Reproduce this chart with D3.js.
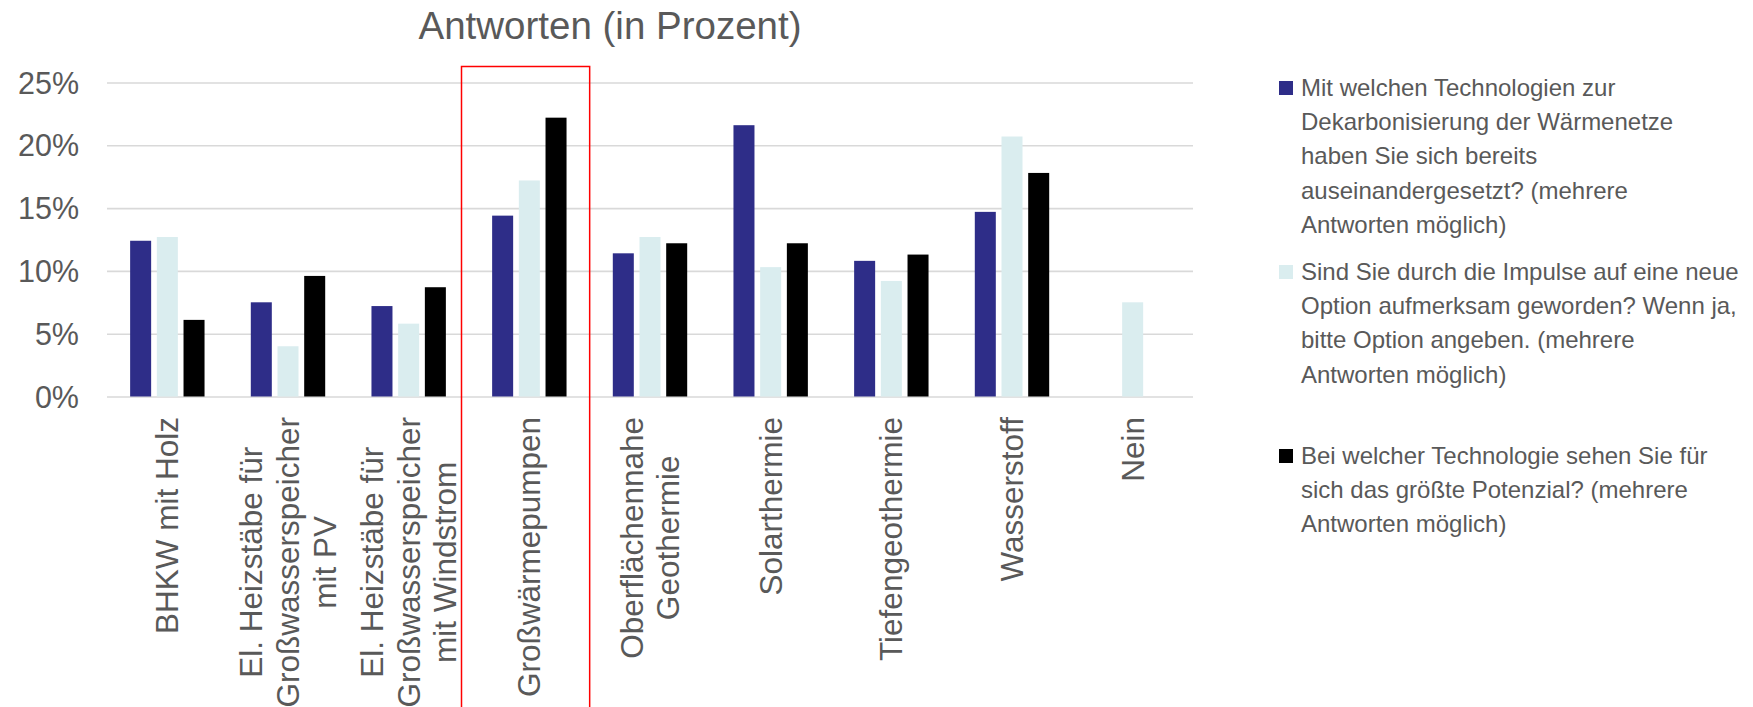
<!DOCTYPE html>
<html>
<head>
<meta charset="utf-8">
<script src="https://cdn.jsdelivr.net/npm/d3@7"></script>
<style>
  html, body { margin: 0; padding: 0; background: #ffffff; }
  svg { display: block; font-family: "Liberation Sans", Arial, sans-serif; }
</style>
</head>
<body>
<svg id="chart" width="1753" height="707"></svg>
<script>
// ---------------- data ----------------
const title = "Antworten (in Prozent)";
const categories = [
  "BHKW mit Holz",
  "El. Heizstäbe für\nGroßwasserspeicher\nmit PV",
  "El. Heizstäbe für\nGroßwasserspeicher\nmit Windstrom",
  "Großwärmepumpen",
  "Oberflächennahe\nGeothermie",
  "Solarthermie",
  "Tiefengeothermie",
  "Wasserstoff",
  "Nein"
];
const seriesNames = [
  "Mit welchen Technologien zur\nDekarbonisierung der Wärmenetze\nhaben Sie sich bereits\nauseinandergesetzt? (mehrere\nAntworten möglich)",
  "Sind Sie durch die Impulse auf eine neue\nOption aufmerksam geworden? Wenn ja,\nbitte Option angeben. (mehrere\nAntworten möglich)",
  "Bei welcher Technologie sehen Sie für\nsich das größte Potenzial? (mehrere\nAntworten möglich)"
];
const seriesBereits  = [12.4, 7.5, 7.2, 14.4, 11.4, 21.6, 10.8, 14.7, 0];
const seriesImpulse  = [12.7, 4.0, 5.8, 17.2, 12.7, 10.3, 9.2, 20.7, 7.5];
const seriesPotenzial = [6.1, 9.6, 8.7, 22.2, 12.2, 12.2, 11.3, 17.8, 0];
const yTicks = [0, 5, 10, 15, 20, 25];
const highlighted = "Großwärmepumpen";

// ---------------- styles ----------------
const colors = ["#2E2D88", "#DAEDEF", "#000000"];
const textColor = "#595959";
const gridColor = "#D9D9D9";

const svg = d3.select("#chart");
svg.append("rect").attr("width", 1753).attr("height", 707).attr("fill", "#fff");

const plot = { left: 107, right: 1193, top: 82.5, bottom: 396.5 };

const x = d3.scaleBand().domain(categories).range([plot.left, plot.right]).paddingInner(0).paddingOuter(0);
const y = d3.scaleLinear().domain([0, 25]).range([plot.bottom, plot.top]);

const groupW = 74.4;
const x1 = d3.scaleBand().domain([0, 1, 2]).range([0, groupW]).paddingInner(0.213).paddingOuter(0);
const groupOffset = (x.bandwidth() - groupW) / 2;

// y axis with gridlines
const yAxis = d3.axisLeft(y)
  .tickValues(yTicks)
  .tickSize(-(plot.right - plot.left))
  .tickPadding(28)
  .tickFormat(d => d + "%");

const gy = svg.append("g").attr("transform", `translate(${plot.left},0)`).call(yAxis);
gy.select(".domain").remove();
gy.selectAll(".tick line").attr("stroke", gridColor).attr("stroke-width", 1.6);
gy.selectAll(".tick text")
  .attr("fill", textColor)
  .attr("font-size", 30.5)
  .attr("font-family", "Liberation Sans, Arial, sans-serif")
  .attr("dy", "0.35em");

// bars
const allSeries = [seriesBereits, seriesImpulse, seriesPotenzial];
const barData = [];
categories.forEach((c, i) => {
  allSeries.forEach((s, k) => barData.push({ cat: c, k: k, v: s[i] }));
});
svg.append("g").selectAll("rect").data(barData).join("rect")
  .attr("x", d => x(d.cat) + groupOffset + x1(d.k))
  .attr("width", x1.bandwidth())
  .attr("y", d => y(d.v))
  .attr("height", d => y(0) - y(d.v))
  .attr("fill", d => colors[d.k]);

// x axis labels (rotated, multi-line, centered block, top-aligned)
const xAxis = d3.axisBottom(x).tickSize(0).tickFormat("");
const gx = svg.append("g").attr("transform", `translate(0,${plot.bottom})`).call(xAxis);
gx.select(".domain").remove();
const labelTop = 417 - plot.bottom;
const lineH = 36.8;
gx.selectAll(".tick").each(function(d) {
  const lines = d.split("\n");
  const g = d3.select(this).append("g");
  const t = g.append("text")
    .attr("text-anchor", "middle")
    .attr("fill", textColor)
    .attr("font-size", 31.5)
    .attr("font-family", "Liberation Sans, Arial, sans-serif");
  lines.forEach((ln, i) => {
    t.append("tspan")
      .attr("x", 0)
      .attr("y", (i - (lines.length - 1) / 2) * lineH)
      .attr("dy", "0.35em")
      .text(ln);
  });
  let maxW = 0;
  t.selectAll("tspan").each(function() { maxW = Math.max(maxW, this.getComputedTextLength()); });
  g.attr("transform", `translate(0,${labelTop + maxW / 2}) rotate(-90)`);
});

// title
svg.append("text")
  .attr("x", 610).attr("y", 38.5)
  .attr("text-anchor", "middle")
  .attr("fill", textColor)
  .attr("font-size", 38.5)
  .text(title);

// highlight box
svg.append("rect")
  .attr("x", x(highlighted) - 7.5)
  .attr("y", 66.5)
  .attr("width", x.bandwidth() + 7.5)
  .attr("height", 700)
  .attr("fill", "none")
  .attr("stroke", "#FF0000")
  .attr("stroke-width", 1.5);

// legend
const legend = svg.append("g");
seriesNames.forEach((name, i) => {
  const base = 96 + i * 184;
  legend.append("rect")
    .attr("x", 1279).attr("y", base - 15)
    .attr("width", 14).attr("height", 14)
    .attr("fill", colors[i]);
  const t = legend.append("text")
    .attr("fill", textColor)
    .attr("font-size", 24);
  name.split("\n").forEach((ln, j) => {
    t.append("tspan").attr("x", 1301).attr("y", base + j * 34.2).text(ln);
  });
});
</script>
</body>
</html>
